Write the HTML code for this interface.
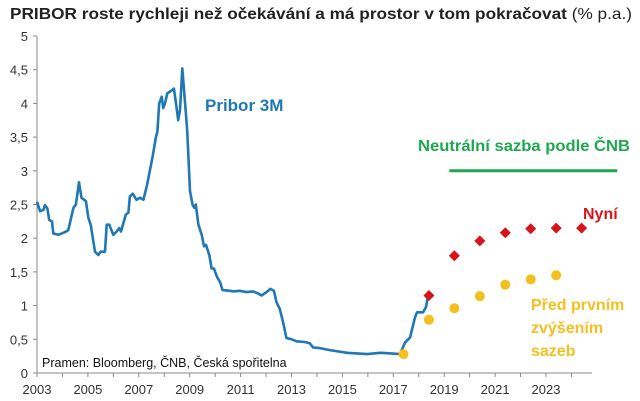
<!DOCTYPE html>
<html><head><meta charset="utf-8"><style>
body{margin:0;background:#fff;}
svg{display:block;font-family:"Liberation Sans",sans-serif;}
</style></head><body>
<svg width="640" height="401">
<text x="10" y="19" font-size="16" fill="#222" textLength="622" lengthAdjust="spacingAndGlyphs"><tspan font-weight="bold">PRIBOR roste rychleji než očekávání a má prostor v tom pokračovat</tspan> (% p.a.)</text>
<g id="axes"></g>
<g id="marks"></g>
<text x="205" y="111" font-size="17" font-weight="bold" fill="#1f78b4">Pribor 3M</text>
<text x="418" y="151" font-size="16" font-weight="bold" fill="#1ea84f" textLength="212" lengthAdjust="spacingAndGlyphs">Neutrální sazba podle ČNB</text>
<text x="583" y="219" font-size="16" font-weight="bold" fill="#d7141a">Nyní</text>
<g font-size="16" font-weight="bold" fill="#f4c01e">
<text x="531" y="310">Před prvním</text><text x="531" y="333">zvýšením</text><text x="531" y="356">sazeb</text></g>
<text x="42" y="367" font-size="12.5" fill="#111">Pramen: Bloomberg, ČNB, Česká spořitelna</text>
</svg>
<script>
const priborYears=[2003.00,2003.12,2003.25,2003.31,2003.41,2003.48,2003.59,2003.64,2003.84,2004.10,2004.23,2004.43,2004.53,2004.65,2004.75,2004.92,2005.02,2005.11,2005.28,2005.41,2005.50,2005.67,2005.74,2005.84,2006.00,2006.13,2006.23,2006.30,2006.49,2006.59,2006.65,2006.76,2006.91,2007.04,2007.18,2007.33,2007.54,2007.67,2007.73,2007.80,2007.90,2007.96,2008.03,2008.12,2008.33,2008.38,2008.46,2008.55,2008.62,2008.71,2008.82,2008.90,2009.01,2009.11,2009.18,2009.24,2009.34,2009.47,2009.56,2009.64,2009.77,2009.86,2009.95,2010.08,2010.19,2010.29,2010.58,2010.71,2010.97,2011.23,2011.49,2011.69,2011.82,2012.02,2012.18,2012.31,2012.41,2012.54,2012.67,2012.80,2013.00,2013.20,2013.52,2013.72,2013.85,2014.11,2014.51,2015.18,2015.97,2016.48,2017.26,2017.46,2017.66,2017.85,2017.93,2018.17,2018.29,2018.36];
const priborValues=[2.54,2.40,2.42,2.49,2.44,2.27,2.25,2.07,2.05,2.09,2.12,2.45,2.50,2.83,2.60,2.55,2.30,2.20,1.80,1.75,1.80,1.80,2.20,2.20,2.05,2.10,2.15,2.10,2.35,2.38,2.62,2.66,2.57,2.60,2.57,2.80,3.20,3.50,3.58,4.00,4.10,3.93,4.00,4.15,4.20,4.22,4.00,3.75,3.90,4.52,4.00,3.60,2.70,2.50,2.45,2.50,2.20,2.05,1.88,1.90,1.75,1.55,1.55,1.42,1.35,1.23,1.22,1.21,1.22,1.20,1.21,1.18,1.15,1.20,1.25,1.22,1.05,0.95,0.75,0.52,0.50,0.47,0.46,0.44,0.38,0.37,0.34,0.30,0.28,0.30,0.28,0.45,0.53,0.82,0.90,0.90,0.98,1.15];
const nowYears=[2018.4,2019.4,2020.4,2021.4,2022.4,2023.4,2024.4];
const nowValues=[1.15,1.74,1.96,2.08,2.14,2.15,2.15];
const beforeYears=[2017.4,2018.4,2019.4,2020.4,2021.4,2022.4,2023.4];
const beforeValues=[0.28,0.79,0.96,1.14,1.31,1.39,1.45];
const neutralYears=[2019.2,2025.8];
const neutralValue=[3.0];
const yTicks=["0","0,5","1","1,5","2","2,5","3","3,5","4","4,5","5"];
const xTickLabels=["2003","2005","2007","2009","2011","2013","2015","2017","2019","2021","2023"];
const NS='http://www.w3.org/2000/svg';
const X=y=>37+(y-2003)*25.45;
const Y=v=>373-v*67.4;
function mk(tag,attrs,parent,text){const e=document.createElementNS(NS,tag);for(const k in attrs)e.setAttribute(k,attrs[k]);if(text!==undefined)e.textContent=text;parent.appendChild(e);return e;}
const ax=document.getElementById('axes'),mg=document.getElementById('marks');
let e=mk('line',{x1:37,y1:Y(5),x2:37,y2:373,stroke:'#888'},ax);


e=mk('line',{x1:37,y1:373,x2:592,y2:373,stroke:'#888'},ax);


yTicks.forEach((t,i)=>{const v=i*0.5;
mk('line',{x1:33,y1:Y(v),x2:37,y2:Y(v),stroke:'#888'},ax);
const l=mk('text',{x:28,y:Y(v)+5,'text-anchor':'end','font-size':13,fill:'#333'},ax,t);

});
for(let yr=2003;yr<=2024;yr++){mk('line',{x1:X(yr),y1:373,x2:X(yr),y2:377,stroke:'#888'},ax);}
xTickLabels.forEach(t=>{const l=mk('text',{x:X(+t),y:394,'text-anchor':'middle','font-size':13,fill:'#333'},ax,t);

});
const pts=priborYears.map((y,i)=>X(y).toFixed(1)+','+Y(priborValues[i]).toFixed(1)).join(' ');
e=mk('polyline',{points:pts,fill:'none',stroke:'#1f78b4','stroke-width':2.6,'stroke-linejoin':'round'},mg);


e=mk('line',{x1:X(neutralYears[0]),x2:X(neutralYears[1]),y1:Y(neutralValue[0]),y2:Y(neutralValue[0]),stroke:'#1ea84f','stroke-width':3},mg);


beforeYears.forEach((y,i)=>{const c=mk('circle',{cx:X(y),cy:Y(beforeValues[i]),r:5,fill:'#f4c01e'},mg);

});
nowYears.forEach((y,i)=>{const cx=X(y),cy=Y(nowValues[i]),s=5.5;
const d=mk('polygon',{points:`${cx},${cy-s} ${cx+s},${cy} ${cx},${cy+s} ${cx-s},${cy}`,fill:'#d7141a'},mg);

});
</script>
</body></html>
